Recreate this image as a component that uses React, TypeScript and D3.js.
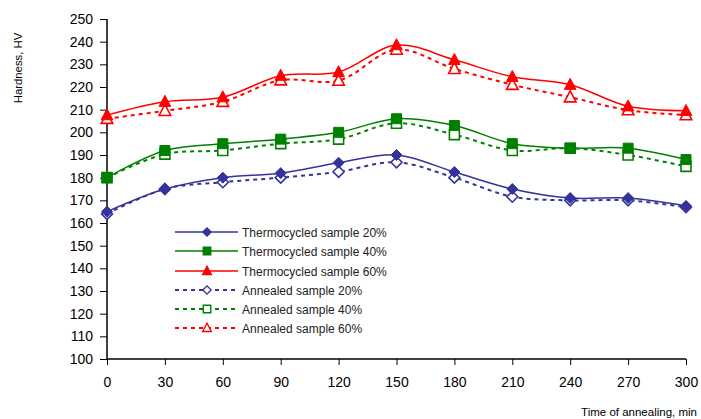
import React, { useEffect, useRef } from 'react';
import * as d3 from 'd3';

const times = [0, 30, 60, 90, 120, 150, 180, 210, 240, 270, 300];
const yTicks = [100, 110, 120, 130, 140, 150, 160, 170, 180, 190, 200, 210, 220, 230, 240, 250];

const thermo20 = [165, 175, 180, 182, 186.6, 190, 182.5, 175, 171, 171, 167.5];
const thermo40 = [180, 192, 195, 197, 200, 206, 203, 195, 193, 193, 188];
const thermo60 = [207.6, 213.5, 215.5, 225, 226.6, 238.5, 232, 224.5, 221, 211.5, 209.5];
const anneal20 = [164, 175, 178, 180, 182.6, 186.8, 180, 171.6, 170, 170, 167];
const anneal40 = [180, 190.4, 192, 195, 197, 204, 199, 192, 193, 190, 185];
const anneal60 = [206, 209.5, 213.5, 223, 222.8, 236.5, 228, 221, 215.5, 209.8, 207.6];

const seriesNames = [
  'Thermocycled sample 20%',
  'Thermocycled sample 40%',
  'Thermocycled sample 60%',
  'Annealed sample 20%',
  'Annealed sample 40%',
  'Annealed sample 60%',
];

const BLUE = '#333399';
const GREEN = '#008000';
const RED = '#ff0000';

const series = [
  { name: seriesNames[0], values: thermo20, color: BLUE, marker: 'diamond', filled: true, dashed: false },
  { name: seriesNames[1], values: thermo40, color: GREEN, marker: 'square', filled: true, dashed: false },
  { name: seriesNames[2], values: thermo60, color: RED, marker: 'triangle', filled: true, dashed: false },
  { name: seriesNames[3], values: anneal20, color: BLUE, marker: 'diamond', filled: false, dashed: true },
  { name: seriesNames[4], values: anneal40, color: GREEN, marker: 'square', filled: false, dashed: true },
  { name: seriesNames[5], values: anneal60, color: RED, marker: 'triangle', filled: false, dashed: true },
];

function markerPath(kind: string, big: boolean) {
  const s = big ? 1 : 0.75;
  if (kind === 'diamond') {
    const r = 5.5 * s;
    return `M0,${-r}L${r},0L0,${r}L${-r},0Z`;
  }
  if (kind === 'square') {
    const r = 5 * s;
    return `M${-r},${-r}H${r}V${r}H${-r}Z`;
  }
  const r = 5.8 * s;
  return `M0,${-r * 1.1}L${r},${r * 0.8}L${-r},${r * 0.8}Z`;
}

export default function App() {
  const ref = useRef<SVGSVGElement>(null);

  useEffect(() => {
    const svg = d3.select(ref.current);
    svg.selectAll('*').remove();

    const left = 107, right = 686, top = 19, bottom = 359;
    const font = 'Arial, "Liberation Sans", sans-serif';

    const x = d3.scaleLinear().domain([0, 300]).range([left, right]);
    const y = d3.scaleLinear().domain([100, 250]).range([bottom, top]);

    // y axis
    const ya = svg.append('g')
      .attr('transform', `translate(${left},0)`)
      .call(d3.axisLeft(y).tickValues(yTicks).tickSize(7).tickPadding(7).tickFormat(d3.format('d')));
    ya.select('.domain').attr('stroke', '#000').attr('stroke-width', 1.5).attr('d', `M0,${top}V${bottom}`);
    ya.selectAll('text').attr('font-family', font).attr('font-size', 14).attr('fill', '#000');

    // x axis
    const xa = svg.append('g')
      .attr('transform', `translate(0,${bottom})`)
      .call(d3.axisBottom(x).tickValues(times).tickSize(6).tickPadding(12));
    xa.select('.domain').attr('stroke', '#000').attr('stroke-width', 1.5).attr('d', `M${left},0H${right}`);
    xa.selectAll('text').attr('font-family', font).attr('font-size', 14).attr('fill', '#000');

    svg.append('text')
      .attr('transform', 'translate(22,68) rotate(-90)')
      .attr('text-anchor', 'middle')
      .attr('font-family', font)
      .attr('font-size', 11.3)
      .text('Hardness, HV');

    svg.append('text')
      .attr('x', 697)
      .attr('y', 416)
      .attr('text-anchor', 'end')
      .attr('font-family', font)
      .attr('font-size', 11.5)
      .text('Time of annealing, min');

    const line = d3.line<number>()
      .x((_, i) => x(times[i]))
      .y(d => y(d))
      .curve(d3.curveCatmullRom.alpha(0.5));

    // annealed first (underneath), then thermocycled
    const order = [3, 4, 5, 0, 1, 2];
    order.forEach(k => {
      const s = series[k];
      svg.append('path')
        .datum(s.values)
        .attr('d', line)
        .attr('fill', 'none')
        .attr('stroke', s.color)
        .attr('stroke-width', s.dashed ? 2 : 1.5)
        .attr('stroke-dasharray', s.dashed ? '4,4' : null);
      svg.append('g').selectAll('path')
        .data(s.values)
        .enter().append('path')
        .attr('transform', (d, i) => `translate(${x(times[i])},${y(d)})`)
        .attr('d', markerPath(s.marker, true))
        .attr('fill', s.filled ? s.color : '#fff')
        .attr('stroke', s.color)
        .attr('stroke-width', s.filled ? 1 : 1.6);
    });

    // legend
    const legend = svg.append('g');
    const rowY = [232, 251, 271, 290, 309, 328];
    series.forEach((s, i) => {
      const g = legend.append('g').attr('transform', `translate(0,${rowY[i]})`);
      g.append('line')
        .attr('x1', 175).attr('x2', 238)
        .attr('stroke', s.color)
        .attr('stroke-width', s.dashed ? 2 : 1.5)
        .attr('stroke-dasharray', s.dashed ? '4,4' : null);
      g.append('path')
        .attr('transform', 'translate(207,0)')
        .attr('d', markerPath(s.marker, false))
        .attr('fill', s.filled ? s.color : '#fff')
        .attr('stroke', s.color)
        .attr('stroke-width', 1.4);
      g.append('text')
        .attr('x', 242)
        .attr('y', 4.5)
        .attr('font-family', font)
        .attr('font-size', 12)
        .attr('fill', '#222')
        .text(s.name);
    });
  }, []);

  return (
    <svg ref={ref} width={701} height={419} style={{ position: 'absolute', left: 0, top: 0, background: '#fff' }} />
  );
}
